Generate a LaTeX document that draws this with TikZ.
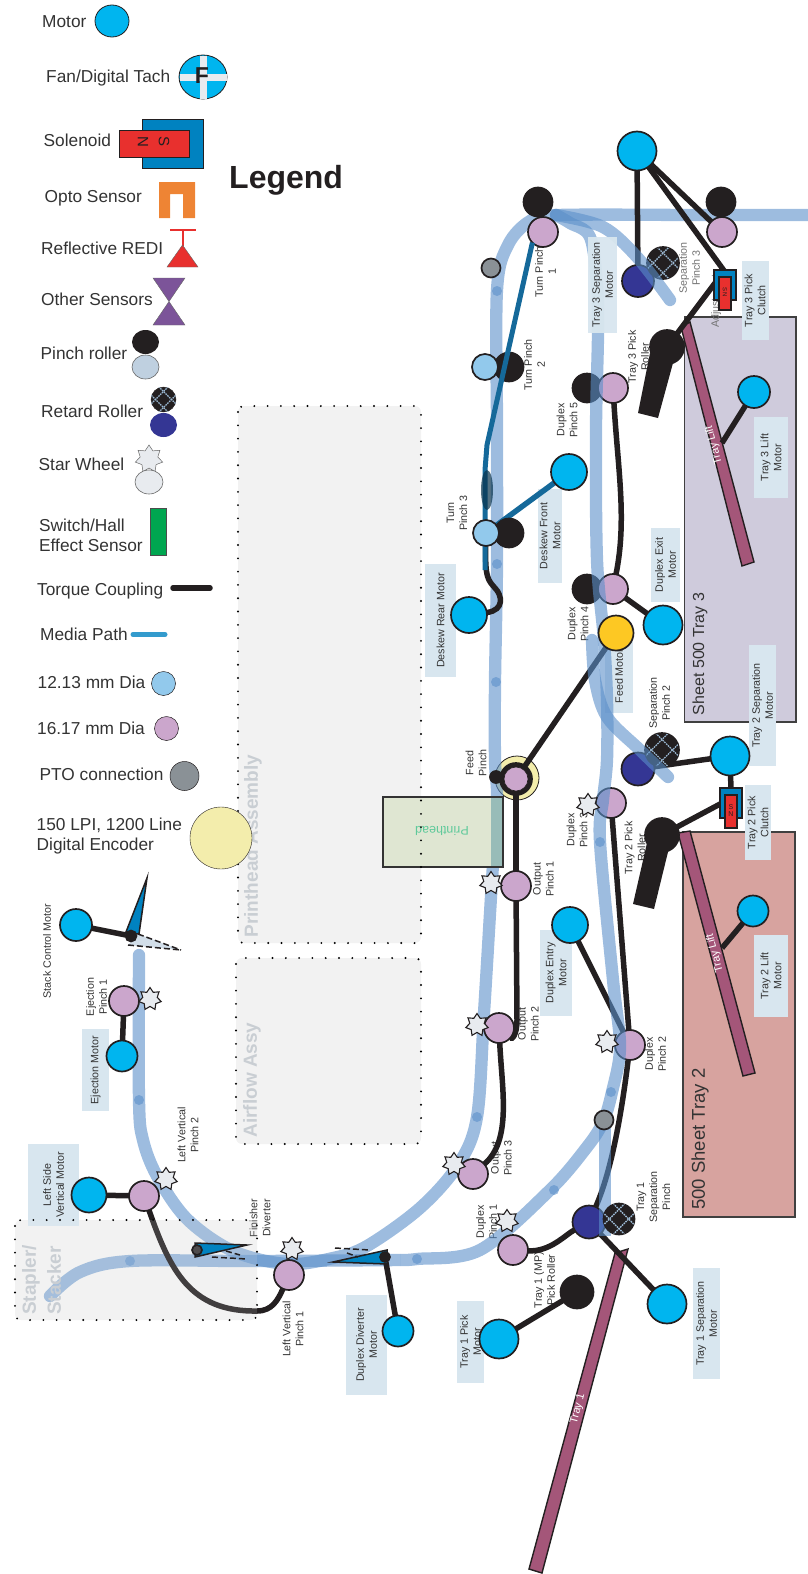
\documentclass[tikz,border=0pt]{standalone}
\usepackage{fontspec}
\setmainfont{Liberation Sans}
\usetikzlibrary{shapes.geometric,calc}
\definecolor{ink}{HTML}{231F20}
\definecolor{txt}{HTML}{333333}
\definecolor{motorc}{HTML}{00B5EF}
\definecolor{pinkc}{HTML}{CBA6CC}
\definecolor{lblue}{HTML}{92C9EC}
\definecolor{navyc}{HTML}{343694}
\definecolor{ptoc}{HTML}{8A9196}
\definecolor{idler}{HTML}{BFD0E0}
\definecolor{starc}{HTML}{E8EBEF}
\definecolor{encc}{HTML}{F3EDAC}
\definecolor{feedc}{HTML}{FDC823}
\definecolor{mediac}{HTML}{5B8FC9}
\definecolor{boxc}{HTML}{D8E6EF}
\definecolor{assyc}{HTML}{F2F2F2}
\definecolor{assyt}{HTML}{C9CED3}
\definecolor{solb}{HTML}{0082C0}
\definecolor{solr}{HTML}{E8302E}
\definecolor{barc}{HTML}{A45679}
\definecolor{deskew}{HTML}{15699A}
\definecolor{tray3c}{HTML}{CFCBDC}
\definecolor{tray2c}{HTML}{D7A39F}
\definecolor{headc}{HTML}{DFE6D2}
\definecolor{headp}{HTML}{98BCB8}
\definecolor{headt}{HTML}{5EC99A}
\definecolor{optoc}{HTML}{EE8434}
\definecolor{purplec}{HTML}{7C5499}
\definecolor{hallc}{HTML}{00A650}
\definecolor{latc}{HTML}{9CBAD4}
\pgfdeclarelayer{lback}\pgfdeclarelayer{lpatha}\pgfdeclarelayer{llabel}\pgfdeclarelayer{llines}\pgfdeclarelayer{lcirc}\pgfdeclarelayer{ltop}
\pgfsetlayers{lback,lpatha,llabel,llines,lcirc,ltop,main}
\tikzset{
 circ/.style={circle,draw=ink,line width=1.7pt,inner sep=0pt,outer sep=0pt,minimum size=#1},
 motor/.style={circ=#1,fill=motorc},
 pinch/.style={circ=30pt,fill=pinkc},
 bluep/.style={circ=26pt,fill=lblue},
 blackp/.style={circ=29pt,fill=ink},
 navyp/.style={circ=#1,fill=navyc},
 pto/.style={circ=19pt,fill=ptoc},
 starw/.style={star,star points=7,star point ratio=1.55,minimum size=23pt,inner sep=0pt,outer sep=0pt,draw=ink,line width=1.1pt,fill=starc},
 coupling/.style={draw=ink,line width=5.5pt},
 media/.style={draw=mediac,opacity=.6,line width=12.3pt,line cap=round},
 pdot/.style={circle,fill=mediac,opacity=.6,inner sep=0pt,minimum size=10pt},
 lbl/.style={font=\fontsize{10.7}{13}\selectfont,text=txt,align=center,rotate=90,inner sep=0pt},
 glbl/.style={lbl,text=black!55},
 lblbox/.style={lbl,fill=boxc,inner sep=0pt},
 leg/.style={font=\fontsize{17.3}{20}\selectfont,text=txt,anchor=west,inner sep=0pt,align=left},
 assy/.style={fill=assyc,rounded corners=6pt},
 dotb/.style={draw=black,line width=2.1pt,line cap=round,dash pattern=on 0pt off 13.3pt,rounded corners=6pt},
 assyl/.style={font=\bfseries\fontsize{19}{23}\selectfont,text=assyt,rotate=90,inner sep=0pt,align=left},
 trayb/.style={draw=black!75,line width=1.6pt},
 trayt/.style={text=txt,rotate=90,inner sep=0pt},
 barb/.style={fill=barc,draw=ink,line width=1.4pt},
 bart/.style={font=\fontsize{11}{13}\selectfont,text=white,inner sep=0pt},
 dia/.style={draw=ink,line width=2pt,fill=solb,line join=miter},
 ghost/.style={draw=ink,line width=1.5pt,dash pattern=on 6pt off 3pt},
 solB/.style={fill=solb,draw=ink,line width=1.2pt},
 solR/.style={fill=solr,draw=ink,line width=1.2pt},
}
\newcommand{\boxlbl}[6]{\node[lblbox,minimum width=#5pt,minimum height=#4pt] (#1) at (#2,#3) {#6};}
\newcommand{\lattice}[4]{%
 \begin{scope}[shift={(#2,#3)},scale=#4]
  \clip (0,0) circle (1);
  \foreach \d in {-.62,.62}{
   \draw[draw=latc,line width=1.3pt,dash pattern=on 1.6pt off .9pt] (\d-1,1) -- (\d+1,-1);
   \draw[draw=latc,line width=1.3pt,dash pattern=on 1.6pt off .9pt] (\d-1,-1) -- (\d+1,1);
  }
 \end{scope}}
\newcommand{\retard}[4]{\node[circ=#4*2pt,fill=ink] (#1) at (#2,#3) {}; \lattice{#1}{#2}{#3}{#4}}
\begin{document}
\begin{tikzpicture}[x=1pt,y=-1pt]
\useasboundingbox (0,0) rectangle (807,1574);

% ---------- background blocks
\begin{pgfonlayer}{lback}
 \fill[assy] (238,406) rectangle (421,943);
 \fill[assy] (236,958) rectangle (421,1144);
 \fill[assy] (15,1220) rectangle (257,1320);
 \draw[trayb,fill=tray3c] (684.5,317) rectangle (796,722);
 \draw[trayb,fill=tray2c] (683,832) rectangle (795,1217);
 \node[circ=44pt,fill=encc,line width=.8pt] (enc) at (517,778) {};
 \node[assyl] (printassy) at (253,846) {Printhead Assembly};
 \node[assyl] (airassy) at (252,1080) {Airflow Assy};
 \node[trayt,font=\fontsize{16}{19}\selectfont] (t3lab) at (700,654) {Sheet 500 Tray 3};
 \node[trayt,font=\fontsize{18.5}{22}\selectfont] (t2lab) at (700,1139) {500 Sheet Tray 2};
\end{pgfonlayer}

% ---------- media path under the rollers
\begin{pgfonlayer}{lpatha}
 \draw[media] plot[smooth,tension=.55] coordinates {(807,215) (700,215) (558,215) (530,221) (508,245) (497,290) (497,430) (497,563) (495,682) (495,760) (497,800) (492,880) (484,1013) (477,1117) (458,1165) (420,1208) (367,1246) (333,1258) (287,1264) (233,1251) (187,1219) (157,1176) (143,1140) (139,1100) (139,955)};
 \begin{scope}
  \clip (0,1100) rectangle (400,1400);
  \draw[media] plot[smooth,tension=.55] coordinates {(50,1296) (80,1272) (130,1261) (250,1261) (400,1260) (417,1259) (480,1250)};
 \end{scope}
 \node[pdot] (d1) at (497,291) {};
 \node[pdot] (d2) at (497,564) {};
 \node[pdot] (d3) at (496,682) {};
 \node[pdot] (d4) at (477,1117) {};
 \node[pdot] (d5) at (139,1100) {};
 \node[pdot] (d6) at (130,1261) {};
\end{pgfonlayer}

% ---------- labels and trays
\begin{pgfonlayer}{llabel}
 \fill[headc] (383,797) rectangle (503,867);
 \fill[headp] (491,797) rectangle (503,867);
 \draw[draw=black!80,line width=1.5pt] (383,797) rectangle (503,867);
 \node[font=\fontsize{12.5}{14}\selectfont,text=headt,rotate=180,inner sep=0pt] (headlab) at (442,831) {Printhead};
 \boxlbl{l1}{755}{300.5}{27}{79}{Tray 3 Pick\\Clutch}
 \boxlbl{l2}{771}{457.5}{34}{81}{Tray 3 Lift\\Motor}
 \boxlbl{l3}{665.5}{565}{29}{74}{Duplex Exit\\Motor}
 \boxlbl{l4}{550}{536}{24}{94}{Deskew Front\\Motor}
 \boxlbl{l5}{440.5}{620.5}{31}{113}{Deskew Rear Motor}
 \boxlbl{l6}{619}{676}{28}{74}{Feed Motor}
 \boxlbl{l7}{762.5}{705.5}{27}{121}{Tray 2 Separation\\Motor}
 \boxlbl{l8}{758}{822.5}{26}{75}{Tray 2 Pick\\Clutch}
 \boxlbl{l9}{556}{973}{32}{86}{Duplex Entry\\Motor}
 \boxlbl{l10}{771}{976}{34}{82}{Tray 2 Lift\\Motor}
 \boxlbl{l11}{95.5}{1070}{27}{82}{Ejection Motor}
 \boxlbl{l12}{53.5}{1185}{51}{82}{Left Side\\Vertical Motor}
 \boxlbl{l13}{366.5}{1345}{41}{100}{Duplex Diverter\\Motor}
 \boxlbl{l14}{470.5}{1342}{27}{82}{Tray 1 Pick\\Motor}
 \boxlbl{l15}{706.5}{1323.5}{27}{111}{Tray 1 Separation\\Motor}
 \node[lbl] (n1) at (545.5,272) {Turn Pinch\\1};
 \node[lbl] (n2) at (534.5,365) {Turn Pinch\\2};
 \node[lbl] (n3) at (567,420) {Duplex\\Pinch 5};
 \node[glbl] (n4) at (689.5,268) {Separation\\Pinch 3};
 \node[lbl] (n5) at (638.5,357) {Tray 3 Pick\\Roller};
 \node[lbl] (n6) at (457,513) {Turn\\Pinch 3};
 \node[lbl] (n7) at (578,624) {Duplex\\Pinch 4};
 \node[lbl] (n8) at (659.5,703) {Separation\\Pinch 2};
 \node[lbl] (n9) at (476,763) {Feed\\Pinch};
 \node[lbl] (n10) at (577,830) {Duplex\\Pinch 3};
 \node[lbl] (n11) at (635,848) {Tray 2 Pick\\Roller};
 \node[lbl] (n12) at (543.5,879) {Output\\Pinch 1};
 \node[lbl] (n13) at (528.5,1024) {Output\\Pinch 2};
 \node[lbl] (n14) at (655.5,1054) {Duplex\\Pinch 2};
 \node[lbl] (n15) at (501.5,1158) {Output\\Pinch 3};
 \node[lbl] (n16) at (653.5,1197) {Tray 1\\Separation\\Pinch};
 \node[lbl] (n17) at (486.5,1222) {Duplex\\Pinch 1};
 \node[lbl] (n18) at (544.5,1280) {Tray 1 (MP)\\Pick Roller};
 \node[lbl] (n19) at (293,1329) {Left Vertical\\Pinch 1};
 \node[lbl] (n20) at (188,1135) {Left Vertical\\Pinch 2};
 \node[lbl] (n21) at (96.5,997) {Ejection\\Pinch 1};
 \node[lbl] (n22) at (47,951) {Stack Control Motor};
 \node[lbl] (n23) at (260,1218) {Finisher\\Diverter};
 \node[glbl,anchor=west] (n24) at (716,328) {Adjustment};
 \draw[barb] (681,327) -- (690,322) -- (754,562) -- (742,566) -- cycle;
 \draw[barb] (678,833) -- (690,831) -- (755,1073) -- (743,1076) -- cycle;
 \draw[barb] (615,1253) -- (628,1249) -- (542,1573) -- (529,1569) -- cycle;
 \node[bart,rotate=105] (b3) at (714,445) {Tray Lift};
 \node[bart,rotate=105] (b2) at (715,953) {Tray Lift};
 \node[bart,rotate=75] (b1) at (578,1409) {Tray 1};
\end{pgfonlayer}

% ---------- rollers, motors under the duplex path
\begin{pgfonlayer}{lcirc}
 \node[blackp] (dup5b) at (587,388) {};
 \node[pinch] (dup5) at (613,388) {};
 \node[blackp] (dup4b) at (587,589) {};
 \node[pinch] (dup4) at (613,589) {};
 \node[pinch] (dup3) at (611,803) {};
 \node[pinch] (dup2) at (630,1045) {};
 \node[navyp=33pt] (sep1n) at (589,1222) {};
 \node[navyp=32pt] (sep3n) at (638,281) {};
 \retard{sep3r}{663}{263}{16}
 \node[navyp=33pt] (sep2n) at (638,769) {};
 \retard{sep2r}{662}{750}{17}
\end{pgfonlayer}

% ---------- media path over the rollers
\begin{pgfonlayer}{ltop}
 \begin{scope}
  \clip (400,0) rectangle (807,1574);
  \draw[media] plot[smooth,tension=.55] coordinates {(380,1260) (400,1260) (417,1259) (480,1250) (550,1190) (587,1147) (603,1122) (612,1092) (620,1047) (613,980) (600,842) (603,800) (607,760) (607,700) (604,640) (597,560) (596,430) (598,333) (597,285) (590,237) (570,223) (556,215)};
 \end{scope}
 \draw[media] plot[smooth,tension=.55] coordinates {(556,215) (603,227) (637,257) (670,300)};
 \draw[media] plot[smooth,tension=.55] coordinates {(592,640) (595,680) (607,717) (640,750) (668,777)};
 \draw[media,line cap=butt] (605,1236) -- (605,1128);
 \node[pdot] (d7) at (611,1092) {};
 \node[pdot] (d8) at (600,842) {};
 \node[pdot] (d9) at (554,1190) {};
 \node[pdot] (d10) at (417,1259) {};
\end{pgfonlayer}

% ---------- stapler veil and assembly borders
\fill[assyc,opacity=.15] (15,1220) rectangle (257,1320);
\draw[dotb] (238,406) rectangle (421,943);
\draw[dotb] (236,958) rectangle (421,1144);
\draw[dotb] (15,1220) rectangle (257,1320);
\node[assyl,anchor=west] (stap1) at (31,1315) {Stapler/};
\node[assyl,anchor=west] (stap2) at (54,1315) {Stacker};

% ---------- rollers and motors
\node[motor=39pt] (mtop) at (637,151) {};
\node[blackp] (t1b) at (538,202) {};
\node[pinch] (t1) at (543,232) {};
\node[blackp] (rb) at (721,202) {};
\node[pinch] (r) at (722,232) {};
\node[pto] (pto1) at (491,268) {};
\node[blackp] (t2b) at (509,367) {};
\node[blackp] (t3b) at (509,533) {};
\draw[draw=deskew,line width=5pt] (t1.south west) -- (487,445) -- (485,470) -- (485,570);
\node[bluep] (t2) at (485,367) {};
\node[motor=32pt] (m3lift) at (754,392) {};
\node[motor=36pt] (mdf) at (569,472) {};
\node[ellipse,fill=black!50!deskew,opacity=.7,minimum width=12pt,minimum height=40pt,inner sep=0pt] (pul) at (487,490) {};
\node[bluep] (t3) at (486,533) {};
\node[motor=36pt] (mdr) at (469,615) {};
\node[motor=39pt] (mexit) at (663,625) {};
\node[circ=35pt,fill=feedc] (mfeed) at (616,633) {};
\node[motor=39pt] (m2sep) at (730,756) {};
\node[circ=32pt,fill=ink] (fring) at (516,779) {};
\node[circ=24pt,fill=pinkc,line width=.6pt] (feed) at (516,779) {};
\node[circ=12pt,fill=ink] (fsmall) at (496,777) {};
\node[pinch] (o1) at (516,886) {};
\node[pinch] (o2) at (499,1028) {};
\node[pinch] (o3) at (473,1174) {};
\node[motor=36pt] (mde) at (570,925) {};
\node[motor=31pt] (m2lift) at (753,911) {};
\node[pto] (pto2) at (604,1120) {};
\retard{sep1r}{619}{1219}{15.5}
\node[pinch] (d1p) at (513,1250) {};
\node[blackp,minimum size=33pt] (t1roll) at (577,1292) {};
\node[motor=39pt] (m1pick) at (499,1339) {};
\node[motor=39pt] (m1sep) at (667,1304) {};
\node[motor=31pt] (mdd) at (398,1331) {};
\node[pinch] (lv1) at (289,1275) {};
\node[pinch] (lv2) at (144,1196) {};
\node[motor=35pt] (mlv) at (89,1195) {};
\node[pinch] (ej) at (124,1001) {};
\node[motor=31pt] (mej) at (122,1056) {};
\node[motor=32pt] (mstack) at (76,925) {};
% pick rollers
\fill[ink] (650,353) -- (673,363) -- (658,418) -- (638,413) -- cycle;
\node[blackp,minimum size=34pt] (r3roll) at (667,347) {};
\fill[ink] (647,843) -- (668,852) -- (654,909) -- (633,904) -- cycle;
\node[blackp,minimum size=34pt] (r2roll) at (662,835) {};
% clutches
\draw[solB] (714,270) rectangle (736,300);
\draw[solR] (719,277) rectangle (731,310);
\node[font=\fontsize{6}{7}\selectfont,text=ink,rotate=-90,inner sep=0pt] (c3t) at (725,292) {S N};
\draw[solB] (720,788) rectangle (742,818);
\draw[solR] (725,795) rectangle (737,828);
\node[font=\fontsize{7}{8}\selectfont,text=ink,align=center,inner sep=0pt] (c2t) at (731,811) {S\\[-1pt]N};
% stars
\node[starw] (s1) at (588,805) {};
\node[starw] (s2) at (607,1042) {};
\node[starw] (s3) at (491,883) {};
\node[starw] (s4) at (477,1025) {};
\node[starw] (s5) at (454,1164) {};
\node[starw] (s6) at (507,1221) {};
\node[starw] (s7) at (292,1249) {};
\node[starw] (s8) at (166,1179) {};
\node[starw] (s9) at (150,999) {};
% Tray 3 separation label sits over the path
\node[lblbox,minimum width=96pt,minimum height=29pt,fill opacity=.95,text opacity=1] (l0) at (602.5,285) {Tray 3 Separation\\Motor};
% diverters
\draw[dia,line width=1.5pt] (247,1245) -- (195,1243) -- (195,1257) -- cycle;
\node[circ=10pt,fill=ink!80] (fpiv) at (197,1250) {};
\draw[ghost] (212,1257) -- (247,1259);
\draw[ghost] (226,1251) -- (240,1255);
\draw[dia,line width=1.5pt] (333,1262) -- (387,1250) -- (387,1264) -- cycle;
\node[circ=10pt,fill=ink] (dpiv) at (385,1257) {};
\draw[ghost] (335,1248) -- (370,1250);
\draw[ghost] (347,1253) -- (358,1257);
\fill[idler!70!white] (128,945) -- (138,934) -- (181,950) -- cycle;
\draw[ghost] (138,934) -- (181,950);
\draw[ghost] (128,945) -- (181,950);
\draw[dia,line width=1.5pt] (147,878) -- (126,932) -- (139,934) -- cycle;
\node[circ=11pt,fill=ink] (spiv) at (131,936) {};

% ---------- connectors
\coordinate (b3m) at (722,443);
\coordinate (b2m) at (722,948);
\begin{pgfonlayer}{llines}
 \draw[coupling] (mtop) -- (sep3n);
 \draw[coupling] (mtop) -- (r);
 \draw[coupling] (mtop) -- (725,272);
 \draw[coupling] (715,283) -- (r3roll);
 \draw[coupling] (m3lift) -- (b3m);
 \draw[coupling] (dup5) .. controls (618,470) and (627,520) .. (dup4);
 \draw[coupling] (dup4) -- (mexit);
 \draw[coupling] (mfeed) -- (feed);
 \draw[coupling] (feed) -- (o1);
 \draw[coupling] (o1) -- (517,1020) .. controls (517,1035) and (512,1040) .. (o2);
 \draw[coupling] (o2) .. controls (502,1090) and (512,1140) .. (o3);
 \draw[coupling] (mdr) .. controls (505,610) and (502,595) .. (495,588) .. controls (488,580) and (485,578) .. (t3);
 \draw[coupling] (dup3) -- (dup2);
 \draw[coupling] (mde) -- (dup2);
 \draw[coupling] (dup2) .. controls (622,1110) and (612,1170) .. (sep1n);
 \draw[coupling] (sep1n) .. controls (565,1235) and (550,1252) .. (d1p);
 \draw[coupling] (sep1n) -- (m1sep);
 \draw[coupling] (t1roll) -- (m1pick);
 \draw[coupling] (m2sep) -- (sep2n);
 \draw[coupling] (m2sep) -- (731,790);
 \draw[coupling] (722,803) -- (r2roll);
 \draw[coupling] (m2lift) -- (b2m);
 \draw[coupling] (mdd) -- (dpiv);
 \draw[coupling] (ej) -- (mej);
 \draw[coupling] (mstack) -- (spiv);
 \draw[coupling] (mlv) -- (lv2);
 \draw[coupling] (lv2) .. controls (170,1270) and (190,1312) .. (257,1311) .. controls (272,1311) and (278,1300) .. (lv1);
 \draw[draw=deskew,line width=5.5pt] (mdf) -- (t3);
\end{pgfonlayer}

% ---------- legend
\node[font=\bfseries\fontsize{32}{36}\selectfont,text=ink,anchor=west,inner sep=0pt] (title) at (229,180) {Legend};
\node[leg] (g1) at (42,22) {Motor};
\node[ellipse,draw=ink,line width=.8pt,fill=motorc,minimum width=34pt,minimum height=32pt,inner sep=0pt] (g1s) at (112,21) {};
\node[leg] (g2) at (46,78) {Fan/Digital Tach};
\node[ellipse,draw=ink,line width=.8pt,fill=motorc,minimum width=48pt,minimum height=44pt,inner sep=0pt] (g2s) at (203,77) {};
\fill[starc] (179.5,73.5) rectangle (226.5,81);
\fill[starc] (199.5,55.5) rectangle (206.5,98.5);
\node[font=\bfseries\fontsize{23}{26}\selectfont,text=ink,inner sep=0pt] (g2f) at (202,76) {F};
\node[leg] (g3) at (43.5,140) {Solenoid};
\fill[solb,draw=ink,line width=.4pt] (142,119) rectangle (203,168);
\fill[solr,draw=ink,line width=.6pt] (119,130) rectangle (189,157);
\node[font=\fontsize{15}{18}\selectfont,text=ink,rotate=-90,inner sep=0pt] (g3n) at (143,142) {N};
\node[font=\fontsize{15}{18}\selectfont,text=ink,rotate=-90,inner sep=0pt] (g3s) at (164,142) {S};
\node[leg] (g4) at (44.5,198) {Opto Sensor};
\fill[optoc] (159,182) -- (195,182) -- (195,218) -- (183,218) -- (183,194) -- (170,194) -- (170,218) -- (159,218) -- cycle;
\node[leg] (g5) at (41,248) {Reflective REDI};
\draw[draw=solr,line width=2pt] (170,229.5) -- (196,229.5);
\draw[draw=solr,line width=2pt] (182.5,229.5) -- (182.5,246);
\fill[solr,draw=black!60,line width=.4pt] (182.5,245) -- (167,267) -- (198,267) -- cycle;
\node[leg] (g6) at (41,299) {Other Sensors};
\fill[purplec,draw=black!60,line width=.4pt] (153,278) -- (185,278) -- (153,325) -- (185,325) -- cycle;
\node[leg] (g7) at (40.5,353) {Pinch roller};
\node[ellipse,fill=ink,minimum width=27pt,minimum height=24pt,inner sep=0pt] (g7a) at (145.5,342) {};
\node[ellipse,draw=black!60,line width=.6pt,fill=idler,minimum width=27pt,minimum height=24pt,inner sep=0pt] (g7b) at (145.5,367) {};
\node[leg] (g8) at (41,411) {Retard Roller};
\node[circ=25pt,fill=ink,line width=.4pt] (g8a) at (163.5,399.5) {};
\lattice{g8a}{163.5}{399.5}{13}
\node[ellipse,fill=navyc,minimum width=27pt,minimum height=24pt,inner sep=0pt] (g8b) at (163.5,425) {};
\node[leg] (g9) at (38.5,464) {Star Wheel};
\node[starw,line width=.5pt,minimum size=28pt,draw=black!60] (g9a) at (149,459) {};
\node[ellipse,draw=black!60,line width=.6pt,fill=starc,minimum width=28pt,minimum height=24pt,inner sep=0pt] (g9b) at (149,482) {};
\node[leg] (g10) at (39,535) {Switch/Hall\\Effect Sensor};
\fill[hallc,draw=black!70,line width=.6pt] (150,508.5) rectangle (166.5,555.5);
\node[leg] (g11) at (37,591) {Torque Coupling};
\coordinate (g11a) at (173,588);
\coordinate (g11b) at (210,588);
\draw[coupling,line cap=round] (g11a) -- (g11b);
\node[leg] (g12) at (40,634) {Media Path};
\coordinate (g12a) at (133,634.5);
\coordinate (g12b) at (165,634.5);
\draw[draw=solb!80!white,line width=5pt,line cap=round] (g12a) -- (g12b);
\node[leg] (g13) at (37.5,682) {12.13 mm Dia};
\node[circ=24pt,fill=lblue,line width=.5pt] (g13s) at (163.5,683.5) {};
\node[leg] (g14) at (37,728) {16.17 mm Dia};
\node[circ=24pt,fill=pinkc,line width=.5pt] (g14s) at (166.5,728.5) {};
\node[leg] (g15) at (39.5,774) {PTO connection};
\node[circ=29pt,fill=ptoc,line width=.5pt] (g15s) at (184.5,776) {};
\node[leg] (g16) at (36.5,836) {150 LPI, 1200 Line\\Digital Encoder};
\node[circ=62pt,fill=encc,line width=.4pt] (g16s) at (221,838) {};
\end{tikzpicture}
\end{document}
